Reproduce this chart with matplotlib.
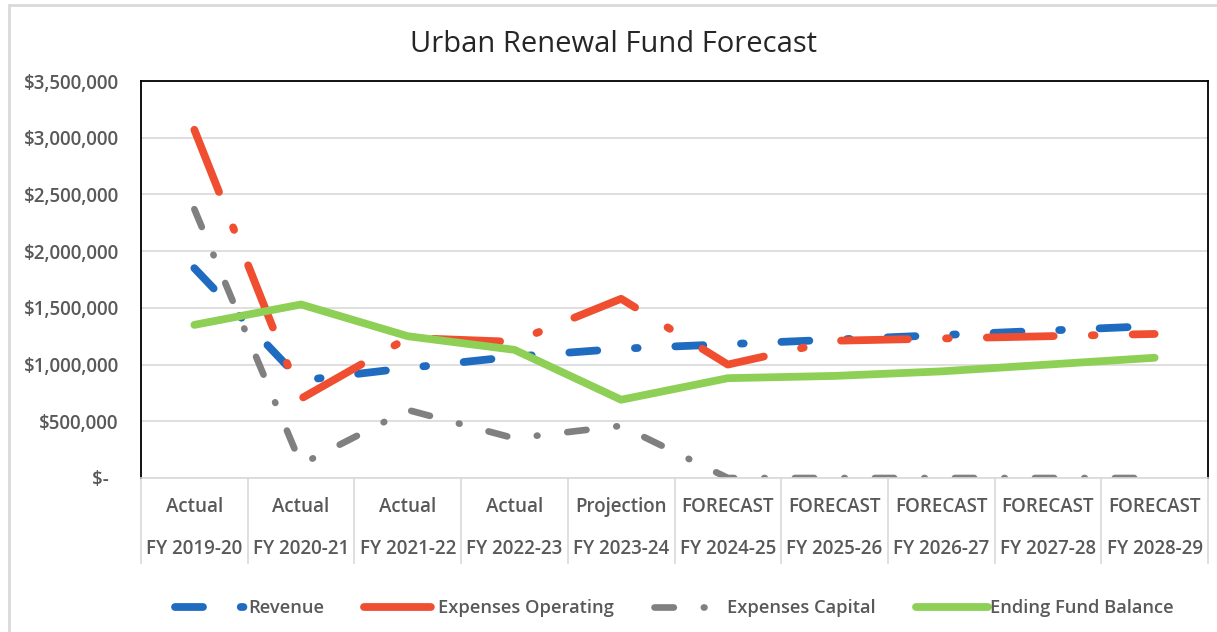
import matplotlib.pyplot as plt
from matplotlib.patches import Rectangle
from matplotlib.ticker import FuncFormatter

plt.rcParams['font.family'] = ['Open Sans', 'DejaVu Sans']
plt.rcParams['font.weight'] = 'semibold'

# data
years = ['FY 2019-20', 'FY 2020-21', 'FY 2021-22', 'FY 2022-23', 'FY 2023-24',
         'FY 2024-25', 'FY 2025-26', 'FY 2026-27', 'FY 2027-28', 'FY 2028-29']
status = ['Actual', 'Actual', 'Actual', 'Actual', 'Projection',
          'FORECAST', 'FORECAST', 'FORECAST', 'FORECAST', 'FORECAST']
revenue = [1850000, 860000, 970000, 1070000, 1140000, 1180000, 1220000, 1260000, 1300000, 1340000]
exp_operating = [3070000, 700000, 1235000, 1200000, 1580000, 1000000, 1210000, 1230000, 1250000, 1270000]
exp_capital = [2370000, 120000, 600000, 350000, 460000, 0, 0, 0, 0, 0]
ending_balance = [1350000, 1530000, 1250000, 1130000, 690000, 880000, 900000, 940000, 1000000, 1060000]

txt = '#595959'
fig = plt.figure(figsize=(12.17, 6.32), dpi=100)
ax = fig.add_axes([141/1217, (632-478)/632, 1067/1217, 397/632])

x = range(len(years))
lw = 5.6
ax.plot(x, revenue, color='#1F6BC0', lw=lw, linestyle=(0, (3.6, 4.85, 0.35, 4.85)),
        dash_capstyle='round', solid_capstyle='round', label='Revenue')
ax.plot(x, exp_operating, color='#F04E30', lw=lw, linestyle=(0, (8.6, 4.9, 0.35, 4.9)),
        dash_capstyle='round', solid_capstyle='round', label='Expenses Operating')
ax.plot(x, exp_capital, color='#808080', lw=4.8, linestyle=(0, (2.9, 4.5, 0.1, 4.5)),
        dash_capstyle='round', solid_capstyle='round', label='Expenses Capital')
ax.plot(x, ending_balance, color='#8ECF55', lw=lw, solid_capstyle='round',
        solid_joinstyle='round', label='Ending Fund Balance')

ax.set_xlim(-0.5, len(years) - 0.5)
ax.set_ylim(0, 3500000)
ax.set_yticks(range(0, 3500001, 500000))
ax.yaxis.set_major_formatter(FuncFormatter(lambda v, p: '$-  ' if v == 0 else '${:,.0f}'.format(v)))
ax.tick_params(axis='y', length=0, pad=16, labelsize=13.5, labelcolor=txt)
ax.set_xticks([])
ax.grid(axis='y', color='#d9d9d9', lw=1.2)
ax.set_axisbelow(True)
for s in ['top', 'left', 'right']:
    ax.spines[s].set_color('black')
    ax.spines[s].set_linewidth(1.3)
ax.spines['bottom'].set_color('#d9d9d9')
ax.spines['bottom'].set_linewidth(1.2)

# two-row category axis with separators
tr = ax.get_xaxis_transform()
for i in range(len(years) + 1):
    ax.plot([i - 0.5, i - 0.5], [0, -0.214], transform=tr, color='#d9d9d9',
            lw=1.2, clip_on=False)
for i in x:
    ax.text(i, -0.073, status[i], transform=tr, ha='center', va='center',
            fontsize=13.5, color=txt)
    ax.text(i, -0.179, years[i], transform=tr, ha='center', va='center',
            fontsize=13.5, color=txt)

fig.text(614/1217, 1 - 45/632, 'Urban Renewal Fund Forecast', ha='center', va='center',
         fontsize=21, fontweight='normal', color='#262626')

fig.legend(loc='center', bbox_to_anchor=(674/1217, 24/632), ncol=4, frameon=False,
           fontsize=13.2, handlelength=3.9, handletextpad=0.1, columnspacing=2.2,
           labelcolor=txt)

# outer chart border
fig.patches.append(Rectangle((9/1217, -0.1), 1.2, 1 - 5/632 + 0.1, transform=fig.transFigure,
                             fill=False, edgecolor='#d9d9d9', lw=2))

fig.savefig('out.png', dpi=100)
